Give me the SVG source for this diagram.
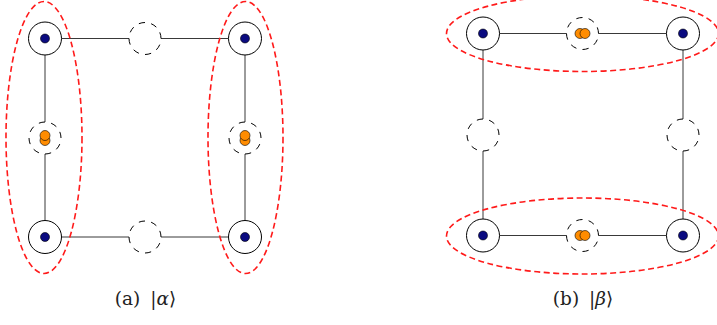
<svg xmlns="http://www.w3.org/2000/svg" width="717" height="325" viewBox="0 0 717 325">
  <style>
    .site { fill: #ffffff; stroke: #000; stroke-width: 1; }
    .core { fill: #0b0b80; stroke: #000; stroke-width: 0.6; }
    .hole { fill: none; stroke: #000; stroke-width: 1; stroke-dasharray: 1 1; }
    .e { fill: #ff8c00; stroke: #000; stroke-width: 0.6; }
    .bond { stroke: #222; stroke-width: 0.9; fill: none; }
    .pair { fill: none; stroke: #ff1a1a; stroke-width: 1.6; stroke-dasharray: 6 3.5; }
    .cap { font-family: "DejaVu Serif", "Liberation Serif", serif; font-size: 18.5px; fill: #222; word-spacing: 4px; }
  </style>
  <defs>
    <g id="site">
      <circle class="site" r="16.5"/>
      <circle class="core" r="4.5"/>
    </g>
    <!-- dashed ring, drawn counter-clockwise from its rightmost point -->
    <path id="ring" class="hole" pathLength="16" d="M16 0 A16 16 0 0 0 -16 0 A16 16 0 0 0 16 0"/>
  </defs>

  <!-- connectors -->
  <g id="connectors">
    <!-- panel a -->
    <line class="bond" x1="61.5" y1="38.5" x2="129" y2="38.5"/>
    <line class="bond" x1="161" y1="38.5" x2="228.5" y2="38.5"/>
    <line class="bond" x1="61.5" y1="237" x2="129" y2="237"/>
    <line class="bond" x1="161" y1="237" x2="228.5" y2="237"/>
    <line class="bond" x1="45" y1="55" x2="45" y2="122"/>
    <line class="bond" x1="45" y1="154" x2="45" y2="220.5"/>
    <line class="bond" x1="245" y1="55" x2="245" y2="122"/>
    <line class="bond" x1="245" y1="154" x2="245" y2="220.5"/>
    <!-- panel b -->
    <line class="bond" x1="499.5" y1="33.5" x2="566.5" y2="33.5"/>
    <line class="bond" x1="598.5" y1="33.5" x2="666.5" y2="33.5"/>
    <line class="bond" x1="499.5" y1="235.5" x2="566.5" y2="235.5"/>
    <line class="bond" x1="598.5" y1="235.5" x2="666.5" y2="235.5"/>
    <line class="bond" x1="483" y1="50" x2="483" y2="119"/>
    <line class="bond" x1="483" y1="151" x2="483" y2="219"/>
    <line class="bond" x1="683" y1="50" x2="683" y2="119"/>
    <line class="bond" x1="683" y1="151" x2="683" y2="219"/>
  </g>

  <!-- panel a: sites -->
  <g id="a-site-tl"><use href="#site" x="45" y="38.5"/></g>
  <g id="a-site-tr"><use href="#site" x="245" y="38.5"/></g>
  <g id="a-site-bl"><use href="#site" x="45" y="237"/></g>
  <g id="a-site-br"><use href="#site" x="245" y="237"/></g>
  <g id="a-hole-top"><use href="#ring" x="145" y="38.5"/></g>
  <g id="a-hole-bottom"><use href="#ring" x="145" y="237"/></g>
  <g id="a-pair-left">
    <use href="#ring" x="45" y="138"/>
    <circle class="e" cx="45" cy="140.5" r="5"/>
    <circle class="e" cx="45" cy="135.5" r="5"/>
  </g>
  <g id="a-pair-right">
    <use href="#ring" x="245" y="138"/>
    <circle class="e" cx="245" cy="140.5" r="5"/>
    <circle class="e" cx="245" cy="135.5" r="5"/>
  </g>
  <g id="a-bonds">
    <ellipse class="pair" cx="44" cy="137.5" rx="38" ry="136"/>
    <ellipse class="pair" cx="245.5" cy="137.5" rx="37.5" ry="136"/>
  </g>
  <g id="a-caption">
    <text class="cap" x="145.5" y="305" text-anchor="middle">(a) |<tspan font-style="italic">α</tspan>⟩</text>
  </g>

  <!-- panel b: sites -->
  <g id="b-site-tl"><use href="#site" x="483" y="33.5"/></g>
  <g id="b-site-tr"><use href="#site" x="683" y="33.5"/></g>
  <g id="b-site-bl"><use href="#site" x="483" y="235.5"/></g>
  <g id="b-site-br"><use href="#site" x="683" y="235.5"/></g>
  <g id="b-hole-left"><use href="#ring" x="483" y="135"/></g>
  <g id="b-hole-right"><use href="#ring" x="683" y="135"/></g>
  <g id="b-pair-top">
    <use href="#ring" x="582.5" y="33.5"/>
    <circle class="e" cx="580" cy="33.5" r="5"/>
    <circle class="e" cx="585" cy="33.5" r="5"/>
  </g>
  <g id="b-pair-bottom">
    <use href="#ring" x="582.5" y="235.5"/>
    <circle class="e" cx="580" cy="235.5" r="5"/>
    <circle class="e" cx="585" cy="235.5" r="5"/>
  </g>
  <g id="b-bonds">
    <ellipse class="pair" cx="582.5" cy="33.5" rx="136" ry="38"/>
    <ellipse class="pair" cx="582.5" cy="236" rx="136" ry="38"/>
  </g>
  <g id="b-caption">
    <text class="cap" x="583" y="305" text-anchor="middle">(b) |<tspan font-style="italic">β</tspan>⟩</text>
  </g>
</svg>
